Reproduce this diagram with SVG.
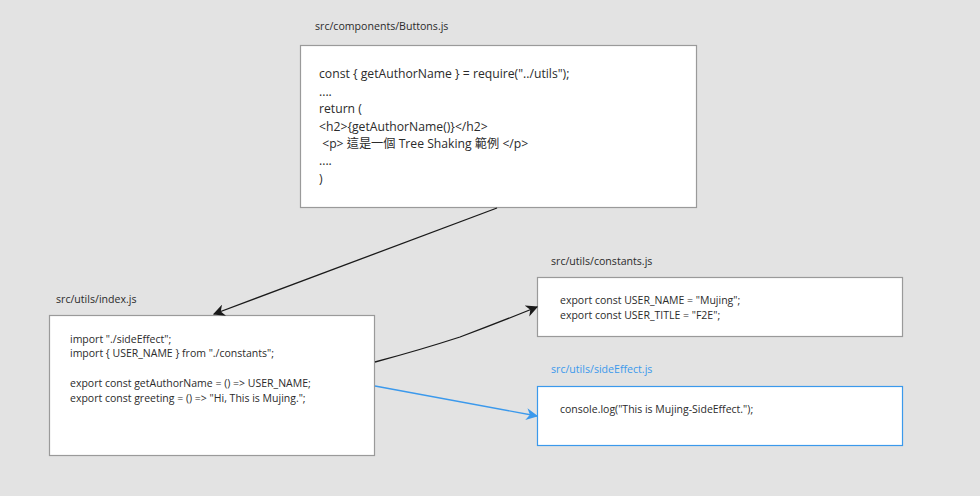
<svg xmlns="http://www.w3.org/2000/svg" width="980" height="496" viewBox="0 0 980 496">
<style>
.bg{fill:#e3e3e3}
.box{fill:#ffffff;stroke:#9a9a9a;stroke-width:1.2}
.box.blue{stroke:#3b99ec}
text{font-family:"Open Sans","Noto Sans CJK TC","Noto Sans",sans-serif;fill:#2b2b2b}
.lbl{font-size:10.6px}
.lbl.blue{fill:#3b99ec}
.code{font-size:12.2px}
.code.s{font-size:10.5px}
.edge{fill:none;stroke:#1a1a1a;stroke-width:1.3}
.edge.blue{stroke:#3b99ec}
</style>
<defs>
<marker id="ah" viewBox="0 0 10 10" refX="9" refY="5" markerWidth="12" markerHeight="12" markerUnits="userSpaceOnUse" orient="auto"><path d="M0,0 L10,5 L0,10 L3,5 z" fill="#1a1a1a"/></marker>
<marker id="ahb" viewBox="0 0 10 10" refX="9" refY="5" markerWidth="12" markerHeight="12" markerUnits="userSpaceOnUse" orient="auto"><path d="M0,0 L10,5 L0,10 L3,5 z" fill="#3b99ec"/></marker>
</defs>
<rect class="bg" x="0" y="0" width="980" height="496"/>
<g id="buttons">
<text class="lbl" x="315" y="30">src/components/Buttons.js</text>
<rect class="box" x="300.5" y="45.5" width="396" height="162"/>
<text class="code" x="319" y="78">const { getAuthorName } = require("../utils");</text>
<text class="code" x="319" y="96">....</text>
<text class="code" x="319" y="113">return (</text>
<text class="code" x="319" y="131">&lt;h2&gt;{getAuthorName()}&lt;/h2&gt;</text>
<text class="code" x="319" y="148" xml:space="preserve"> &lt;p&gt; 這是一個 Tree Shaking 範例 &lt;/p&gt;</text>
<text class="code" x="319" y="165">....</text>
<text class="code" x="319" y="183">)</text>
</g>
<g id="index">
<text class="lbl" x="56" y="303">src/utils/index.js</text>
<rect class="box" x="49.5" y="315.5" width="325" height="140"/>
<text class="code s" x="70" y="343">import "./sideEffect";</text>
<text class="code s" x="70" y="357">import { USER_NAME } from "./constants";</text>
<text class="code s" x="70" y="387">export const getAuthorName = () =&gt; USER_NAME;</text>
<text class="code s" x="70" y="402">export const greeting = () =&gt; "Hi, This is Mujing.";</text>
</g>
<g id="constants">
<text class="lbl" x="551" y="265">src/utils/constants.js</text>
<rect class="box" x="537.5" y="277.5" width="365" height="59"/>
<text class="code s" x="560" y="304">export const USER_NAME = "Mujing";</text>
<text class="code s" x="560" y="319">export const USER_TITLE = "F2E";</text>
</g>
<g id="sideEffect">
<text class="lbl blue" x="551" y="373">src/utils/sideEffect.js</text>
<rect class="box blue" x="537.5" y="386.5" width="365" height="59"/>
<text class="code s" x="560" y="413">console.log("This is Mujing-SideEffect.");</text>
</g>
<g id="connectors">
<path class="edge" d="M497,208 L214,314" marker-end="url(#ah)"/>
<path class="edge" d="M375,362 Q420,350 460,337 Q500,322 537,307" marker-end="url(#ah)"/>
<path class="edge blue" d="M375,386 L537,416" marker-end="url(#ahb)"/>
</g>
</svg>
